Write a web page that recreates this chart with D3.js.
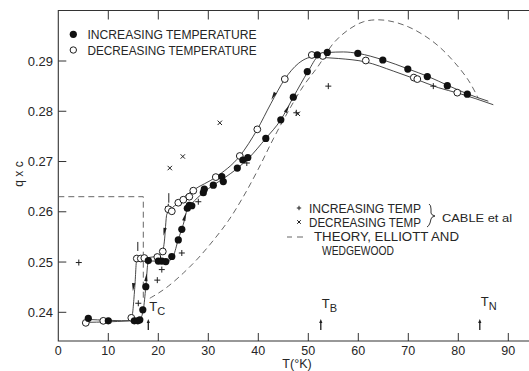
<!DOCTYPE html>
<html><head><meta charset="utf-8">
<script src="https://cdn.jsdelivr.net/npm/d3@7"></script>
<style>
html,body{margin:0;padding:0;background:#fff;}
svg{display:block;}
text{font-family:"Liberation Sans","DejaVu Sans",sans-serif;fill:#262626;}
</style></head>
<body>
<script>
// ---- data (T in K, q in units of c*) ----
const incT = [6,10,15.2,15.9,16.3,16.9,17.5,18,20,20.7,21.5,22.7,24,24.7,25.8,26.2,26.7,29,29.2,31,32.7,33,35.8,36.9,37.9,41.5,44.5,47,49.8,51.8,53.8,59.9,64.9,69.9,73.8,77.8,81.8];
const incQ = [0.2388,0.2383,0.2383,0.2383,0.2385,0.2405,0.2451,0.2503,0.2502,0.2502,0.2501,0.2511,0.2544,0.2565,0.2607,0.2613,0.2612,0.2638,0.2645,0.2653,0.2670,0.2660,0.2687,0.2703,0.2708,0.2746,0.2783,0.2828,0.2879,0.2912,0.2917,0.2915,0.2902,0.2884,0.2869,0.2851,0.2834];
const decT = [5.5,9,14.6,15.7,16.5,17.2,19.8,20.9,22,22.7,24,25,26.2,27,31.5,36.3,39.8,45.3,50.7,52.9,61.5,71.1,71.8,79.8];
const decQ = [0.2379,0.2383,0.2389,0.2507,0.2507,0.2508,0.2510,0.2521,0.2605,0.2601,0.2618,0.2624,0.2630,0.2642,0.2669,0.2711,0.2764,0.2864,0.2912,0.2910,0.2901,0.2867,0.2864,0.2837];
// hand-drawn guide curves
const incCurveT = [5.5,15,16.3,17,17.5,18,20,22,23,24,25,25.8,26.6,29,31,33,36,38,41.5,44.5,47,50,52,54,57,60,65,70,74,78,82,86];
const incCurveQ = [0.2386,0.2383,0.2386,0.2405,0.2450,0.2502,0.2502,0.2502,0.2512,0.2545,0.2575,0.2605,0.2615,0.2638,0.2653,0.2666,0.2688,0.2706,0.2746,0.2783,0.2828,0.2880,0.2910,0.2917,0.2918,0.2915,0.2902,0.2884,0.2869,0.2851,0.2834,0.2820];
const decCurveT = [5.5,14,14.7,15.3,15.7,17.2,20.7,21.2,21.7,22.5,24,25,27,31.5,36.3,39.8,42.5,45.3,48,51,53,56,61.5,67,71.5,76,80,87];
const decCurveQ = [0.2380,0.2383,0.2390,0.2450,0.2507,0.2508,0.2515,0.2540,0.2595,0.2605,0.2618,0.2628,0.2643,0.2669,0.2711,0.2764,0.2815,0.2864,0.2895,0.2908,0.2907,0.2905,0.2898,0.2880,0.2864,0.2847,0.2836,0.2813];
const theoryT = [18.3,20,22,25,28,31,34,37,40,43,46,49,52,55,58,61,64,67,70,73,76,79,82,84];
const theoryQ = [0.2428,0.2438,0.2452,0.2478,0.2508,0.2543,0.2582,0.2630,0.2685,0.2745,0.2800,0.2850,0.2890,0.2935,0.2962,0.2978,0.2982,0.2978,0.2968,0.2952,0.2930,0.2900,0.2862,0.2826];
const stepT = [0,17,17];
const stepQ = [0.263,0.263,0.2425];
// direction arrows drawn on the curves (curve id, T, q, +1 = toward higher T)
const arrowCurve = ["dec","inc","dec","inc","dec","inc"];
const arrowT = [15.0,17.6,21.2,25.3,43.0,45.8];
const arrowQ = [0.2450,0.2470,0.2560,0.2590,0.2830,0.2805];
const arrowDir = [-1,1,-1,1,-1,1];
// error bars above a few points
const errT = [15.9,22.1];
const errLo = [0.2522,0.2618];
const errHi = [0.2540,0.2637];
// Cable et al
const cableIncT = [4.1,16,19.8,20.7,22,24.7,28,37.7,47.6,54,75];
const cableIncQ = [0.2499,0.2418,0.2464,0.2485,0.2610,0.2518,0.2620,0.2697,0.2797,0.2850,0.2850];
const cableDecT = [22.3,24.9,32.3,47.9];
const cableDecQ = [0.2687,0.2710,0.2777,0.2795];
// transition markers
const markNames = ["C","B","N"];
const markT = [18,52.5,84.3];
const xTicks = [0,10,20,30,40,50,60,70,80,90];
const yTicks = [0.24,0.25,0.26,0.27,0.28,0.29];
const yTickLabels = ["0.24","0.25","0.26","0.27","0.28","0.29"];

const W = 529, H = 371;
const svg = d3.select("body").append("svg").attr("width",W).attr("height",H);
const x = d3.scaleLinear().domain([0,90]).range([58.3,508.3]);
const y = d3.scaleLinear().domain([0.24,0.29]).range([312.3,61]);
const ink = "#1e1e1e";
const fLeft = x(0), fTop = 10.5, fBottom = 341, fRight = W;

// frame
svg.append("path").attr("d",`M${fRight},${fTop}H${fLeft}V${fBottom}H${fRight}`)
  .attr("fill","none").attr("stroke","#333").attr("stroke-width",1.1);
svg.append("g").selectAll("line").data(xTicks.slice(1)).join("line")
  .attr("x1",d=>x(d)).attr("x2",d=>x(d)).attr("y1",fBottom).attr("y2",fBottom-8)
  .attr("stroke","#333").attr("stroke-width",1);
svg.append("g").selectAll("line").data(xTicks.slice(1)).join("line")
  .attr("x1",d=>x(d)).attr("x2",d=>x(d)).attr("y1",fTop).attr("y2",fTop+9)
  .attr("stroke","#333").attr("stroke-width",1);
svg.append("g").selectAll("text").data(xTicks).join("text")
  .attr("x",d=>x(d)).attr("y",355).attr("text-anchor","middle")
  .attr("font-size",12.5).text(d=>d);
svg.append("g").selectAll("line").data(yTicks).join("line")
  .attr("x1",fLeft).attr("x2",fLeft+8).attr("y1",d=>y(d)).attr("y2",d=>y(d))
  .attr("stroke","#333").attr("stroke-width",1);
svg.append("g").selectAll("text").data(yTicks).join("text")
  .attr("x",53).attr("y",d=>y(d)+4.5).attr("text-anchor","end")
  .attr("font-size",13).text((d,i)=>yTickLabels[i]);
svg.append("text").attr("transform","translate(23,174) rotate(-90)")
  .attr("text-anchor","middle").attr("font-size",12).text("q x c");
svg.append("text").attr("x",297).attr("y",368).attr("text-anchor","middle")
  .attr("font-size",12.5).text("T(°K)");

const zip = (a,b)=>a.map((v,i)=>[v,b[i]]);
const lineOf = c=>d3.line().x(d=>x(d[0])).y(d=>y(d[1])).curve(c);

svg.append("path").datum(zip(theoryT,theoryQ))
  .attr("d",lineOf(d3.curveCatmullRom)).attr("fill","none")
  .attr("stroke","#555").attr("stroke-width",0.9).attr("stroke-dasharray","6,4");
svg.append("path").datum(zip(stepT,stepQ))
  .attr("d",lineOf(d3.curveLinear)).attr("fill","none")
  .attr("stroke","#555").attr("stroke-width",0.9).attr("stroke-dasharray","6,4");

const curves = {inc: zip(incCurveT,incCurveQ), dec: zip(decCurveT,decCurveQ)};
["inc","dec"].forEach(k=>svg.append("path").datum(curves[k])
  .attr("d",lineOf(d3.curveMonotoneX))
  .attr("fill","none").attr("stroke","#333").attr("stroke-width",0.9));

// arrows along curves
arrowT.forEach((t,i)=>{
  const pts = curves[arrowCurve[i]];
  let j = pts.findIndex(p=>p[0]>=t); if (j<1) j=1;
  const a = pts[j-1], b = pts[j];
  let dx = (x(b[0])-x(a[0]))*arrowDir[i], dy = (y(b[1])-y(a[1]))*arrowDir[i];
  const L = Math.hypot(dx,dy); dx/=L; dy/=L;
  const cx = x(t), cy = y(arrowQ[i]);
  const tip = [cx+dx*4, cy+dy*4], base = [cx-dx*4, cy-dy*4];
  const nx = -dy*1.7, ny = dx*1.7;
  svg.append("path").attr("d",`M${tip[0]},${tip[1]}L${base[0]+nx},${base[1]+ny}L${base[0]-nx},${base[1]-ny}Z`)
    .attr("fill",ink);
});
// error bars
svg.append("g").selectAll("line").data(errT).join("line")
  .attr("x1",d=>x(d)).attr("x2",d=>x(d)).attr("y1",(d,i)=>y(errLo[i])).attr("y2",(d,i)=>y(errHi[i]))
  .attr("stroke",ink).attr("stroke-width",1);

const plus = (g,cx,cy,s)=>g.append("path").attr("d",`M${cx-s},${cy}H${cx+s}M${cx},${cy-s}V${cy+s}`)
  .attr("stroke",ink).attr("stroke-width",1);
const cross = (g,cx,cy,s)=>g.append("path").attr("d",`M${cx-s},${cy-s}L${cx+s},${cy+s}M${cx-s},${cy+s}L${cx+s},${cy-s}`)
  .attr("stroke",ink).attr("stroke-width",1);
const gc = svg.append("g");
cableIncT.forEach((t,i)=>plus(gc,x(t),y(cableIncQ[i]),3));
cableDecT.forEach((t,i)=>cross(gc,x(t),y(cableDecQ[i]),2.2));

svg.append("g").selectAll("circle").data(zip(decT,decQ)).join("circle")
  .attr("cx",d=>x(d[0])).attr("cy",d=>y(d[1])).attr("r",3.4)
  .attr("fill","#fff").attr("stroke",ink).attr("stroke-width",1);
svg.append("g").selectAll("circle").data(zip(incT,incQ)).join("circle")
  .attr("cx",d=>x(d[0])).attr("cy",d=>y(d[1])).attr("r",3.6).attr("fill","#111");

const markY = [311,308,306];
markNames.forEach((n,i)=>{
  const mx = x(markT[i]);
  svg.append("path").attr("d",`M${mx},${330}V${322}`).attr("stroke",ink).attr("stroke-width",1.3);
  svg.append("path").attr("d",`M${mx-1.6},${323}L${mx},${319}L${mx+1.6},${323}Z`).attr("fill",ink);
  const t = svg.append("text").attr("x",mx+1).attr("y",markY[i]).attr("font-size",13);
  t.append("tspan").text("T");
  t.append("tspan").attr("dy",4).attr("font-size",11).text(n);
});

svg.append("circle").attr("cx",73.3).attr("cy",34.3).attr("r",3.6).attr("fill","#111");
svg.append("circle").attr("cx",73.3).attr("cy",50).attr("r",3.2).attr("fill","#fff").attr("stroke",ink);
svg.append("text").attr("x",87.5).attr("y",39.3).attr("font-size",12)
  .attr("textLength",169).attr("lengthAdjust","spacingAndGlyphs").text("INCREASING TEMPERATURE");
svg.append("text").attr("x",87.5).attr("y",55).attr("font-size",12)
  .attr("textLength",169).attr("lengthAdjust","spacingAndGlyphs").text("DECREASING TEMPERATURE");

plus(svg,299,208,2.2);
cross(svg,299,222,1.8);
svg.append("path").attr("d","M287,237H292M297,237H303").attr("stroke","#555").attr("stroke-width",0.9);
svg.append("text").attr("x",309).attr("y",212.5).attr("font-size",12)
  .attr("textLength",112).attr("lengthAdjust","spacingAndGlyphs").text("INCREASING TEMP");
svg.append("text").attr("x",309).attr("y",226.5).attr("font-size",12)
  .attr("textLength",112).attr("lengthAdjust","spacingAndGlyphs").text("DECREASING TEMP");
svg.append("path").attr("d","M429,204 Q431,205 431,209 L431,213 Q431,215 435,216 Q431,217 431,219 L430,223 Q429,226 427,227")
  .attr("fill","none").attr("stroke",ink).attr("stroke-width",0.9);
svg.append("text").attr("x",442).attr("y",221.5).attr("font-size",11.5)
  .attr("textLength",70).attr("lengthAdjust","spacingAndGlyphs").text("CABLE et al");
svg.append("text").attr("x",314).attr("y",241).attr("font-size",12)
  .attr("textLength",145).attr("lengthAdjust","spacingAndGlyphs").text("THEORY, ELLIOTT AND");
svg.append("text").attr("x",322).attr("y",254.5).attr("font-size",12)
  .attr("textLength",72).attr("lengthAdjust","spacingAndGlyphs").text("WEDGEWOOD");
</script>
</body></html>
